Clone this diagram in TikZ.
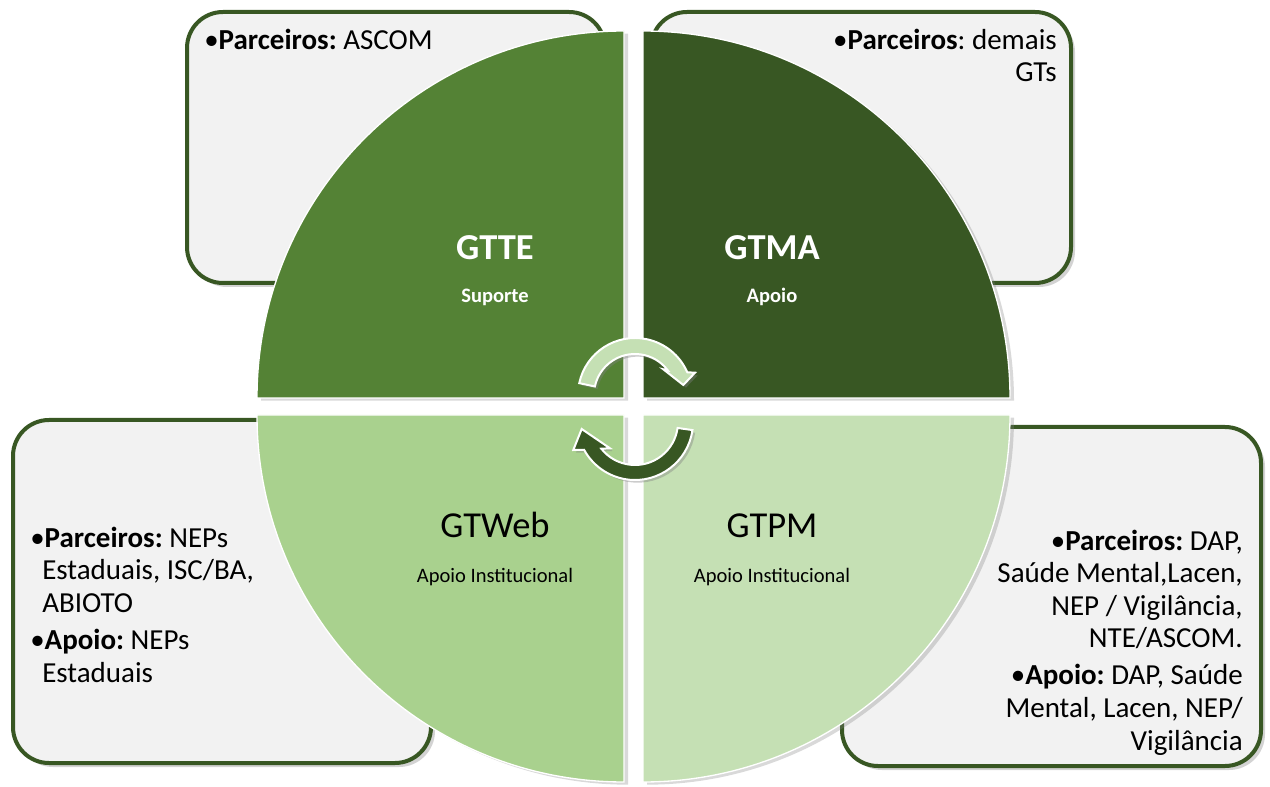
\documentclass[tikz,border=0pt]{standalone}
\usepackage{fontspec}
\setmainfont{Carlito}
\usepackage{xcolor}
\usepackage{tikz}
\usetikzlibrary{shadows}
\frenchspacing

\definecolor{gtdark}{HTML}{385723}
\definecolor{gtmid}{HTML}{548235}
\definecolor{gtlight}{HTML}{A9D18E}
\definecolor{gtpale}{HTML}{C5E0B4}
\definecolor{panelgray}{HTML}{F2F2F2}

\begin{document}
\begin{tikzpicture}[x=0.75pt, y=0.75pt,
				panel/.style={draw=gtdark, fill=panelgray, line width=3pt, rounded corners=27pt,
					drop shadow={opacity=0.35, shadow xshift=3pt, shadow yshift=-3pt}},
				quarter/.style={draw=white, line width=1pt,
					drop shadow={opacity=0.3, shadow xshift=3pt, shadow yshift=-2pt}},
				turnarrow/.style={draw=white, line width=1.5pt,
					drop shadow={opacity=0.4, shadow xshift=2pt, shadow yshift=-2pt}},
				info/.style={inner sep=0pt, font=\fontsize{21.75}{24.4}\selectfont},
				grp/.style={inner sep=0pt, anchor=base, font=\fontsize{27.4}{30}\selectfont},
				role/.style={inner sep=0pt, anchor=base, font=\fontsize{15.4}{18}\selectfont}]
				\useasboundingbox (0,0) rectangle (1270,-787);

				% side panels
				\path[panel] (187,-12) rectangle (605,-283);
				\path[panel] (651,-12) rectangle (1071,-283);
				\path[panel] (13,-420) rectangle (431,-763);
				\path[panel] (842,-427) rectangle (1261,-766);

				% the four quarters
				\path[quarter, fill=gtmid] (624,-398) -- ++(-367,0) arc[start angle=180, end angle=90, radius=367] -- cycle;
				\path[quarter, fill=gtdark] (643,-398) -- ++(0,367) arc[start angle=90, end angle=0, radius=367] -- cycle;
				\path[quarter, fill=gtlight] (624,-415) -- ++(0,-367) arc[start angle=270, end angle=180, radius=367] -- cycle;
				\path[quarter, fill=gtpale] (643,-415) -- ++(367,0) arc[start angle=0, end angle=-90, radius=367] -- cycle;

				% cycle arrows
				\begin{scope}[shift={(635,-395)}]
					\path[turnarrow, fill=gtpale] (168:57) arc[start angle=168, end angle=23.5, radius=57]
						-- (60,22.3) -- (48.3,10) -- (28.3,25.7) -- (37:41)
						arc[start angle=37, end angle=168, radius=41] -- cycle;
				\end{scope}
				\begin{scope}[shift={(635,-422)}]
					\path[turnarrow, fill=gtdark] (352:58) arc[start angle=352, end angle=208.6, radius=58]
						-- (-61.7,-28) -- (-53.3,-7) -- (-25,-26.3) -- (218.4:43)
						arc[start angle=218.4, end angle=352, radius=43] -- cycle;
				\end{scope}

				% group names
				\node at (495,-260) (gtte) [grp, text=white] {\bfseries GTTE};
				\node at (495,-303) (gttesub) [role, text=white] {\bfseries Suporte};
				\node at (772,-260) (gtma) [grp, text=white] {\bfseries GTMA};
				\node at (772,-303) (gtmasub) [role, text=white] {\bfseries Apoio};
				\node at (495,-537) (gtweb) [grp] {GTWeb};
				\node at (495,-582) (gtwebsub) [role] {Apoio Institucional};
				\node at (772,-537) (gtpm) [grp] {GTPM};
				\node at (772,-582) (gtpmsub) [role] {Apoio Institucional};

				% partners (base = last line)
				\node at (204,-50) (tteinfo) [info, anchor=base west] {\textbullet\textbf{Parceiros:} ASCOM};
				\node at (1057,-82) (tmainfo) [info, anchor=base east, align=right] {\textbullet\textbf{Parceiros}: demais\\GTs};
				\node at (30,-682) (webinfo) [info, anchor=base west, align=left] {\textbullet\textbf{Parceiros:} NEPs\\
					\hspace{9pt}Estaduais, ISC/BA,\\
					\hspace{9pt}ABIOTO\\[3.4pt]
					\textbullet\textbf{Apoio:} NEPs\\
					\hspace{9pt}Estaduais};
				\node at (1243,-750) (tpminfo) [info, anchor=base east, align=right] {\textbullet\textbf{Parceiros:} DAP,\\
					Saúde Mental,Lacen,\\
					NEP / Vigilância,\\
					NTE/ASCOM.\\[3.4pt]
					\textbullet\textbf{Apoio:} DAP, Saúde\\
					Mental, Lacen, NEP/\\
					Vigilância};
			\end{tikzpicture}
\end{document}
